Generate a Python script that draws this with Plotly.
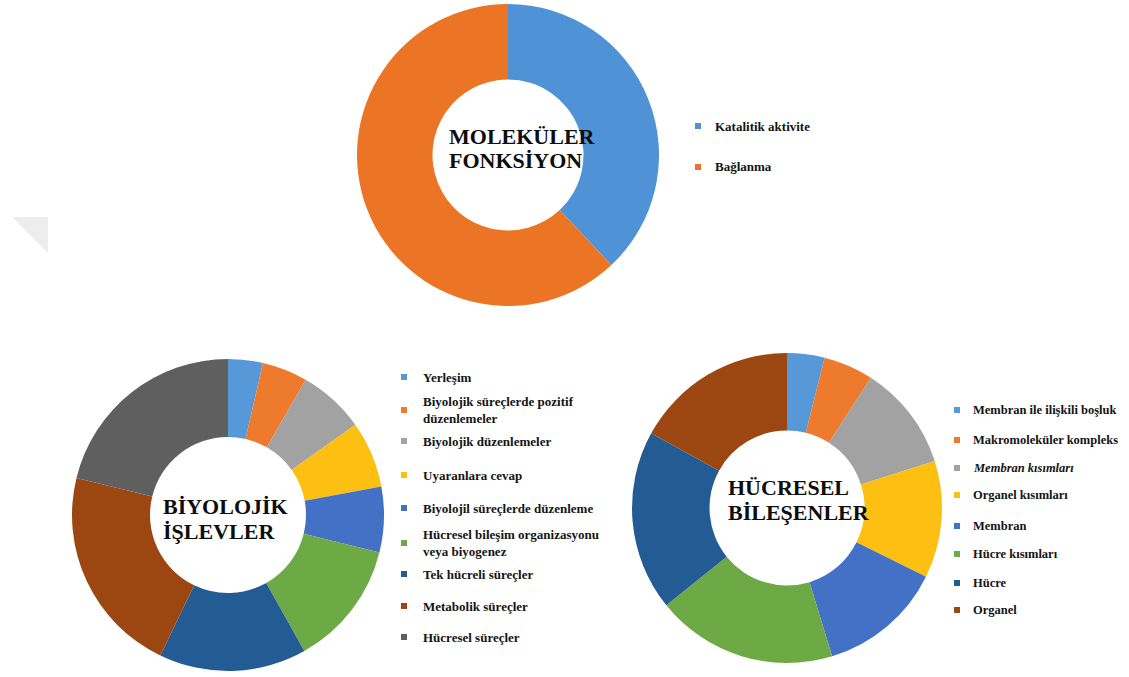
import plotly.graph_objects as go

W, H = 1129, 677

# Moleküler fonksiyon
mf_labels = ["Katalitik aktivite", "Bağlanma"]
mf_values = [38, 62]
mf_colors = ["#4f93d6", "#eb7525"]

# Biyolojik işlevler
bp_labels = [
    "Yerleşim",
    "Biyolojik süreçlerde pozitif<br>düzenlemeler",
    "Biyolojik düzenlemeler",
    "Uyaranlara cevap",
    "Biyolojil süreçlerde düzenleme",
    "Hücresel bileşim organizasyonu<br>veya biyogenez",
    "Tek hücreli süreçler",
    "Metabolik süreçler",
    "Hücresel süreçler",
]
bp_values = [3.6, 4.7, 6.9, 6.9, 6.8, 13.0, 15.3, 21.7, 21.2]

# Hücresel bileşenler
cc_labels = [
    "Membran ile ilişkili boşluk",
    "Makromoleküler kompleks",
    "<i>Membran kısımları</i>",
    "Organel kısımları",
    "Membran",
    "Hücre kısımları",
    "Hücre",
    "Organel",
]
cc_values = [3.9, 5.2, 11.0, 12.2, 13.0, 18.9, 18.8, 17.0]

palette = ["#5799d8", "#ee7a2e", "#a2a2a2", "#fcbf12", "#4371c6",
           "#6daa45", "#235c94", "#9c4712", "#5f5f5f"]

SERIF = "Liberation Serif"


def px_x(x):
    return x / W


def px_y(y):
    return 1 - y / H


def domain(cx, cy, r):
    return dict(x=[px_x(cx - r), px_x(cx + r)], y=[px_y(cy + r), px_y(cy - r)])


fig = go.Figure()

pies = [
    (mf_labels, mf_values, mf_colors, (508, 155, 151)),
    (bp_labels, bp_values, palette[:len(bp_labels)], (228, 515, 156)),
    (cc_labels, cc_values, palette[:len(cc_labels)], (787, 508, 155)),
]
for labels, values, colors, (cx, cy, r) in pies:
    fig.add_trace(go.Pie(
        labels=labels, values=values, hole=0.5, sort=False,
        direction="clockwise", rotation=0, textinfo="none",
        marker=dict(colors=colors, line=dict(width=0)),
        domain=domain(cx, cy, r), showlegend=False,
    ))

annotations = []
shapes = []

# centre titles, one annotation per line
titles = [
    (["MOLEKÜLER", "FONKSİYON"], 447, [136, 160]),
    (["BİYOLOJİK", "İŞLEVLER"], 161, [506, 531]),
    (["HÜCRESEL", "BİLEŞENLER"], 726, [487, 512]),
]
for lines, x, ys in titles:
    for line, y in zip(lines, ys):
        annotations.append(dict(
            text=line, x=px_x(x), y=px_y(y), xref="paper", yref="paper",
            xanchor="left", yanchor="middle", align="left", showarrow=False,
            font=dict(family=SERIF, size=22, weight="bold", color="#0d0d0d"),
        ))

# legends: square marker + label text
legend_groups = [
    (mf_labels, mf_colors, 698, 713, [126, 167], 13),
    (bp_labels, palette, 404, 421, [377, 410, 441, 475, 508, 543, 574, 606, 637], 13),
    (cc_labels, palette, 957, 971, [410, 440, 468, 495, 526, 554, 583, 610], 12.5),
]
for labels, colors, sx, tx, ys, fs in legend_groups:
    for lab, col, y in zip(labels, colors, ys):
        shapes.append(dict(
            type="rect", xref="paper", yref="paper",
            x0=px_x(sx - 3), x1=px_x(sx + 3), y0=px_y(y + 3), y1=px_y(y - 3),
            fillcolor=col, line=dict(width=0),
        ))
        annotations.append(dict(
            text=lab, x=px_x(tx), y=px_y(y), xref="paper", yref="paper",
            xanchor="left", yanchor="middle", align="left", showarrow=False,
            font=dict(family=SERIF, size=fs, weight="bold", color="#141414"),
        ))

# faint corner shadow at the left edge
shapes.append(dict(
    type="path", xref="paper", yref="paper",
    path=f"M {px_x(12)},{px_y(217)} L {px_x(48)},{px_y(217)} L {px_x(48)},{px_y(253)} Z",
    fillcolor="#ededed", line=dict(width=0),
))

fig.update_layout(
    width=W, height=H, margin=dict(l=0, r=0, t=0, b=0),
    paper_bgcolor="white", plot_bgcolor="white",
    annotations=annotations, shapes=shapes, showlegend=False,
)

fig.write_html("out.html")
